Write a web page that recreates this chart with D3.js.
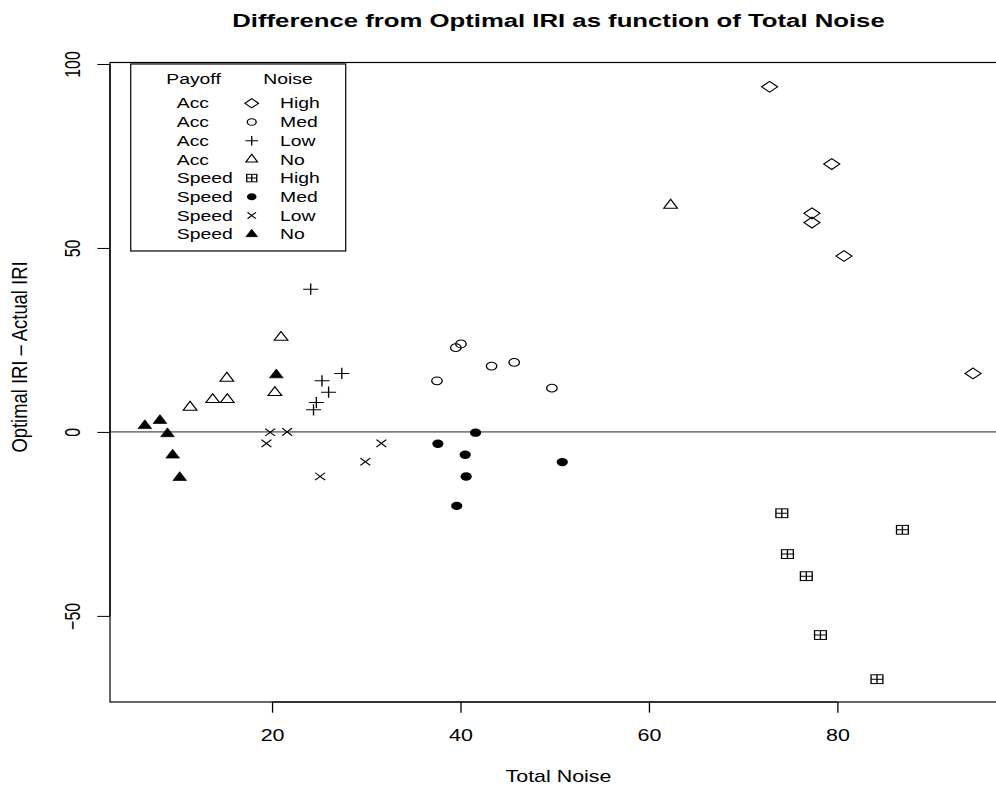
<!DOCTYPE html>
<html>
<head>
<meta charset="utf-8">
<script src="https://cdn.jsdelivr.net/npm/d3@7"></script>
<style>
  html, body { margin: 0; padding: 0; background: #fff; }
  svg { display: block; font-family: "Liberation Sans", Arial, Helvetica, sans-serif; }
</style>
</head>
<body>
<svg id="chart" width="996" height="790"></svg>
<script>
// Total noise (x) and optimal IRI minus actual IRI (y), one array per payoff/noise group
const accHigh   = [[72.8, 93.8], [79.4, 72.8], [77.3, 59.4], [77.3, 56.9], [80.7, 47.8], [94.4, 15.9]];
const accMed    = [[39.5, 22.9], [40.05, 23.9], [43.3, 17.9], [45.7, 18.9], [37.5, 13.9], [49.7, 11.9]];
const accLow    = [[24.1, 38.8], [27.4, 15.9], [25.3, 13.9], [26.0, 10.8], [24.7, 8.0], [24.4, 6.0]];
const accNo     = [[62.3, 61.6], [20.95, 25.7], [15.2, 14.6], [13.7, 8.8], [15.25, 8.8], [11.3, 6.7], [20.3, 10.7]];
const speedHigh = [[74.1, -22.1], [86.9, -26.6], [74.7, -33.2], [76.7, -39.2], [78.2, -55.2], [84.2, -67.2]];
const speedMed  = [[41.6, -0.2], [37.6, -3.2], [40.5, -6.2], [50.8, -8.2], [40.6, -12.1], [39.6, -20.1]];
const speedLow  = [[19.8, -0.1], [21.6, 0.0], [19.4, -3.1], [31.6, -3.1], [29.9, -8.1], [25.1, -12.1]];
const speedNo   = [[20.45, 15.5], [6.5, 1.7], [8.1, 3.1], [8.9, -0.5], [9.45, -6.3], [10.2, -12.4]];

const xTicks = [20, 40, 60, 80];
const yTicks = [-50, 0, 50, 100];
const payoffLabels = ["Acc", "Acc", "Acc", "Acc", "Speed", "Speed", "Speed", "Speed"];
const noiseLabels  = ["High", "Med", "Low", "No", "High", "Med", "Low", "No"];
const legendSymbols = ["diamond", "circle", "plus", "triangle", "boxplus", "dot", "cross", "triangleFill"];

const titleText = "Difference from Optimal IRI as function of Total Noise";
const xTitle = "Total Noise";
const yTitle = "Optimal IRI \u2013 Actual IRI";

// horizontal stretch applied to glyphs and symbols
const SX = 1.34;

const svg = d3.select("#chart");
const plot = { left: 110, right: 1007, top: 62.5, bottom: 702 };

const x = d3.scaleLinear().domain([2.8, 98]).range([plot.left, plot.right]);
const y = d3.scaleLinear().domain([-73.4, 100.4]).range([plot.bottom, plot.top]);

// symbol drawing in local (unstretched) coordinates
function drawSymbol(g, kind, k) {
  k = k || 1;
  const s = "#000";
  if (kind === "diamond") {
    const rx = 6.0 * k, ry = 5.4 * k;
    g.append("path").attr("d", `M0,${-ry}L${rx},0L0,${ry}L${-rx},0Z`).attr("fill", "none").attr("stroke", s).attr("stroke-width", 1);
  } else if (kind === "circle") {
    g.append("circle").attr("r", 3.9 * k).attr("fill", "none").attr("stroke", s).attr("stroke-width", 1);
  } else if (kind === "dot") {
    g.append("circle").attr("r", 4.2 * k).attr("fill", s);
  } else if (kind === "plus") {
    const r = 5.6 * k;
    g.append("path").attr("d", `M${-r},0H${r}M0,${-r}V${r}`).attr("stroke", s).attr("stroke-width", 1);
  } else if (kind === "cross") {
    const r = 3.7 * k;
    g.append("path").attr("d", `M${-r},${-r}L${r},${r}M${-r},${r}L${r},${-r}`).attr("stroke", s).attr("stroke-width", 1);
  } else if (kind === "triangle" || kind === "triangleFill") {
    const r = 5.9 * k;
    const h = r * Math.sqrt(3) / 2;
    const p = `M0,${-r}L${h},${r / 2}L${-h},${r / 2}Z`;
    if (kind === "triangle") g.append("path").attr("d", p).attr("fill", "none").attr("stroke", s).attr("stroke-width", 1);
    else g.append("path").attr("d", p).attr("fill", s).attr("stroke", s).attr("stroke-width", 0.6);
  } else if (kind === "boxplus") {
    const r = 4.4 * k;
    g.append("rect").attr("x", -r).attr("y", -r).attr("width", 2 * r).attr("height", 2 * r)
      .attr("fill", "none").attr("stroke", s).attr("stroke-width", 1);
    g.append("path").attr("d", `M${-r},0H${r}M0,${-r}V${r}`).attr("stroke", s).attr("stroke-width", 1);
  }
}

// plot frame
svg.append("rect")
  .attr("x", plot.left).attr("y", plot.top)
  .attr("width", plot.right - plot.left).attr("height", plot.bottom - plot.top)
  .attr("fill", "none").attr("stroke", "#000").attr("stroke-width", 1.2);

// zero reference line
svg.append("line")
  .attr("x1", plot.left).attr("x2", plot.right)
  .attr("y1", y(0)).attr("y2", y(0))
  .attr("stroke", "#222").attr("stroke-width", 1);

// x axis
const gx = svg.append("g").attr("transform", `translate(0,${plot.bottom})`)
  .call(d3.axisBottom(x).tickValues(xTicks).tickSize(10.7).tickSizeOuter(0).tickFormat(d3.format("d")));
gx.select(".domain").remove();
gx.append("line").attr("x1", x(xTicks[0])).attr("x2", x(xTicks[xTicks.length - 1]))
  .attr("stroke", "#000").attr("stroke-width", 1.2);
gx.selectAll(".tick line").attr("stroke", "#000").attr("stroke-width", 1.3);
gx.selectAll(".tick text")
  .attr("y", null).attr("dy", null)
  .attr("transform", `translate(0,38.7) scale(${SX},1)`)
  .attr("font-size", 16).attr("fill", "#000")
  .style("font-family", "'Liberation Sans', Arial, sans-serif");

// y axis
const gy = svg.append("g").attr("transform", `translate(${plot.left},0)`)
  .call(d3.axisLeft(y).tickValues(yTicks).tickSize(12.7).tickSizeOuter(0).tickFormat(d3.format("d")));
gy.select(".domain").remove();
gy.append("line").attr("y1", y(yTicks[0])).attr("y2", y(yTicks[yTicks.length - 1]))
  .attr("stroke", "#000").attr("stroke-width", 1.3);
gy.selectAll(".tick line").attr("stroke", "#000").attr("stroke-width", 1);
gy.selectAll(".tick text")
  .attr("x", null).attr("dy", null)
  .attr("text-anchor", "middle")
  .attr("transform", `translate(-30,0) scale(${SX},1) rotate(-90)`)
  .attr("font-size", 16).attr("fill", "#000")
  .text(d => d < 0 ? "\u2212" + Math.abs(d) : d)
  .style("font-family", "'Liberation Sans', Arial, sans-serif");

// titles
svg.append("text")
  .attr("transform", `translate(${(plot.left + plot.right) / 2},27.3) scale(${SX},1)`)
  .attr("text-anchor", "middle").attr("font-size", 19.2).attr("font-weight", "bold")
  .text(titleText);

svg.append("text")
  .attr("transform", `translate(${(plot.left + plot.right) / 2},781.5) scale(${SX},1)`)
  .attr("text-anchor", "middle").attr("font-size", 16)
  .text(xTitle);

svg.append("text")
  .attr("transform", `translate(27,357) scale(1.15,1) rotate(-90)`)
  .attr("text-anchor", "middle").attr("font-size", 18.4)
  .text(yTitle);

// data points
const series = [
  { data: accHigh, sym: "diamond" },
  { data: accMed, sym: "circle" },
  { data: accLow, sym: "plus" },
  { data: accNo, sym: "triangle" },
  { data: speedHigh, sym: "boxplus" },
  { data: speedMed, sym: "dot" },
  { data: speedLow, sym: "cross" },
  { data: speedNo, sym: "triangleFill" }
];
const pts = svg.append("g");
series.forEach(sr => {
  pts.selectAll(null).data(sr.data).enter().append("g")
    .attr("transform", d => `translate(${x(d[0])},${y(d[1])}) scale(${SX},1)`)
    .each(function () { drawSymbol(d3.select(this), sr.sym); });
});

// legend, anchored at data position (5, 100)
const lg = svg.append("g").attr("transform", `translate(${x(5)},${y(100)})`);
lg.append("rect").attr("width", 215).attr("height", 187)
  .attr("fill", "#fff").attr("stroke", "#000").attr("stroke-width", 1.2);
const lfs = 14.45;
lg.append("text").attr("transform", `translate(35.5,19.6) scale(${SX},1)`).attr("font-size", lfs).text("Payoff");
lg.append("text").attr("transform", `translate(132.6,19.6) scale(${SX},1)`).attr("font-size", lfs).text("Noise");
payoffLabels.forEach((p, i) => {
  const cy = 39.3 + i * 18.7;
  lg.append("text").attr("transform", `translate(46,${cy + 5.2}) scale(${SX},1)`).attr("font-size", lfs).text(p);
  lg.append("text").attr("transform", `translate(149.3,${cy + 5.2}) scale(${SX},1)`).attr("font-size", lfs).text(noiseLabels[i]);
  const sg = lg.append("g").attr("transform", `translate(121,${cy}) scale(${SX},1)`);
  drawSymbol(sg, legendSymbols[i], 0.85);
});
</script>
</body>
</html>
